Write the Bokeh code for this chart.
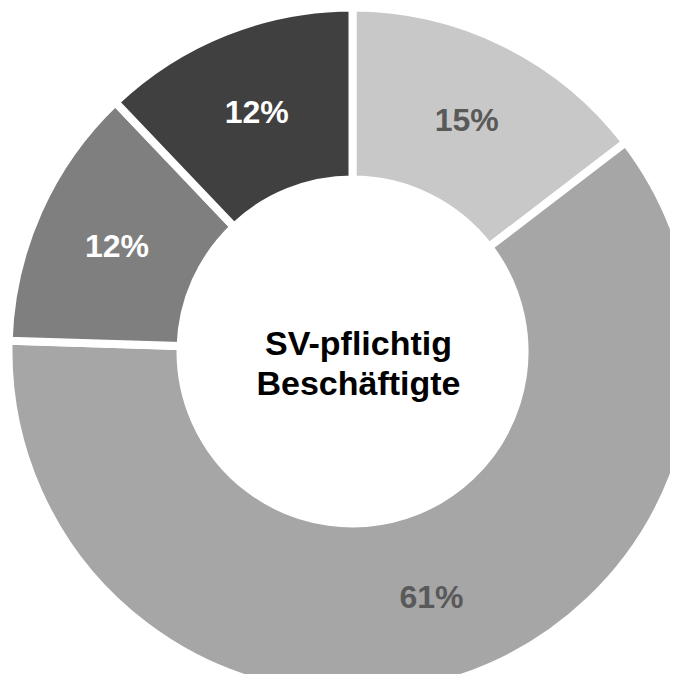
import math
from bokeh.plotting import figure
from bokeh.models import Range1d, ColumnDataSource
from bokeh.core.properties import value
from bokeh.embed import file_html
from bokeh.resources import INLINE

# Data
categories = ["A", "B", "C", "D"]
shares = [14.6, 60.9, 12.4, 12.1]
labels = ["15%", "61%", "12%", "12%"]
colors = ["#c8c8c8", "#a6a6a6", "#7f7f7f", "#404040"]
label_colors = ["#595959", "#595959", "#ffffff", "#ffffff"]
center_lines = ["SV-pflichtig", "Beschäftigte"]

W, H = 670, 674
IMG_H = 690
# data units = pixels of the reference image (y measured upward from image bottom)
p = figure(width=W, height=H, output_backend="svg", toolbar_location=None,
           x_range=Range1d(0, W), y_range=Range1d(IMG_H - H, IMG_H),
           min_border=0)
p.axis.visible = False
p.grid.visible = False
p.outline_line_color = None
p.background_fill_color = "white"
p.border_fill_color = "white"

cx, cy = 352, IMG_H - 351
r_out, r_in = 340, 176
gap = 8

total = sum(shares)
starts, ends, lx, ly = [], [], [], []
cum = 0.0
for s in shares:
    a0 = math.pi / 2 - 2 * math.pi * cum / total
    cum += s
    a1 = math.pi / 2 - 2 * math.pi * cum / total
    starts.append(a0)
    ends.append(a1)
    mid = (a0 + a1) / 2
    rl = (r_out + r_in) / 2
    lx.append(cx + rl * math.cos(mid))
    ly.append(cy + rl * math.sin(mid))

src = ColumnDataSource(dict(cat=categories, start=starts, end=ends, color=colors,
                            lx=lx, ly=ly, label=labels, lcolor=label_colors))

p.annular_wedge(x=cx, y=cy, inner_radius=r_in - gap / 2, outer_radius=r_out + gap / 2,
                start_angle="start", end_angle="end", direction="clock",
                fill_color="color", line_color="white", line_width=gap,
                line_join="miter", source=src)

p.text(x="lx", y="ly", text="label", text_color="lcolor", source=src,
       text_font=value("Liberation Sans"), text_font_style="bold",
       text_font_size="32px", text_align="center", text_baseline="middle")

p.text(x=[cx + 6, cx + 6], y=[IMG_H - 342, IMG_H - 382], text=center_lines,
       text_color="black", text_font=value("Liberation Sans"),
       text_font_style="bold", text_font_size="34px",
       text_align="center", text_baseline="alphabetic")

open("out.html", "w").write(file_html(p, INLINE))
